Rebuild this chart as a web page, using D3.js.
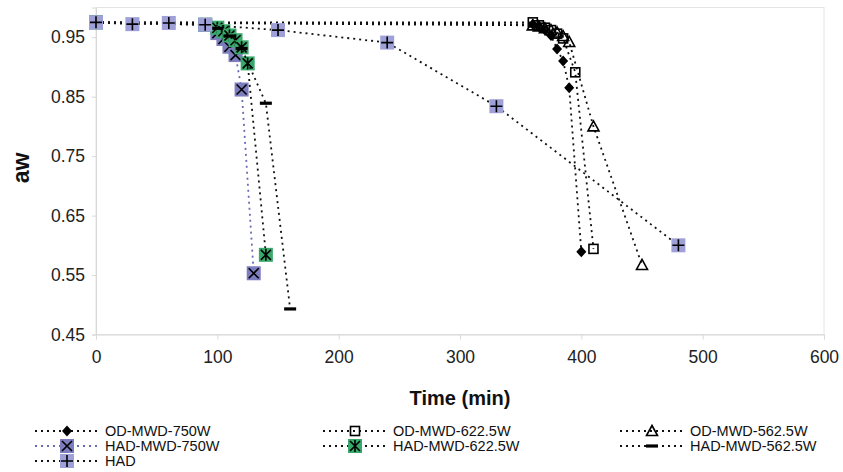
<!DOCTYPE html>
<html><head><meta charset="utf-8">
<script src="https://cdn.jsdelivr.net/npm/d3@7"></script>
<style>
body{margin:0;background:#fff}
svg{display:block;font-family:"Liberation Sans",Arial,Helvetica,sans-serif}
</style>
</head><body>
<svg id="chart" width="843" height="472"></svg>
<script>
// ---- data ----
const seriesNames = ["OD-MWD-750W","OD-MWD-622.5W","OD-MWD-562.5W","HAD-MWD-750W","HAD-MWD-622.5W","HAD-MWD-562.5W","HAD"];

const timeOD750 = [0,360,365,370,375,380,385,390,400];
const awOD750   = [0.975,0.972,0.968,0.962,0.953,0.930,0.910,0.865,0.589];

const timeOD622 = [0,360,365,370,375,380,385,395,410];
const awOD622   = [0.975,0.975,0.970,0.966,0.962,0.956,0.948,0.891,0.594];

const timeOD562 = [0,360,365,370,375,380,385,390,410,450];
const awOD562   = [0.975,0.970,0.968,0.965,0.962,0.958,0.952,0.942,0.800,0.567];

const timeHAD750 = [0,90,100,105,110,115,120,130];
const awHAD750   = [0.975,0.971,0.957,0.947,0.934,0.920,0.862,0.553];

const timeHAD622 = [0,90,100,105,110,115,120,125,140];
const awHAD622   = [0.975,0.971,0.966,0.960,0.953,0.945,0.933,0.906,0.584];

const timeHAD562 = [0,90,100,110,120,140,160];
const awHAD562   = [0.975,0.971,0.965,0.952,0.931,0.839,0.493];

const timeHAD = [0,30,60,90,150,240,330,480];
const awHAD   = [0.975,0.972,0.974,0.971,0.962,0.941,0.834,0.600];

const xTicks = [0,100,200,300,400,500,600];
const yTicks = [0.45,0.55,0.65,0.75,0.85,0.95];

// ---- styles ----
const PURPLE_DARK = "#7c7cbf", PURPLE = "#a0a0d8", GREEN = "#38a96b";
const styles = [
  {marker:"diamond", line:"#111"},
  {marker:"square", line:"#111"},
  {marker:"triangle", line:"#111"},
  {marker:"boxX", line:"#6a6ab8"},
  {marker:"boxStar", line:"#111"},
  {marker:"dash", line:"#111"},
  {marker:"boxPlus", line:"#111"}
];
const times = [timeOD750,timeOD622,timeOD562,timeHAD750,timeHAD622,timeHAD562,timeHAD];
const aws = [awOD750,awOD622,awOD562,awHAD750,awHAD622,awHAD562,awHAD];
const series = seriesNames.map((n,i)=>({name:n, style:styles[i], pts:times[i].map((t,j)=>({t, a:aws[i][j]}))}));

const svg = d3.select("#chart");
const x = d3.scaleLinear().domain([0,600]).range([96,824]);
const y = d3.scaleLinear().domain([0.45,1.0]).range([334.5,7.5]);

// frame
svg.append("rect").attr("x",96).attr("y",7.5).attr("width",728).attr("height",327)
  .attr("fill","none").attr("stroke","#e4e4e4").attr("stroke-width",1);

const gx = svg.append("g").attr("transform","translate(0,334.5)")
  .call(d3.axisBottom(x).tickValues(xTicks).tickFormat(d3.format("d")).tickSize(5).tickPadding(11));
const gy = svg.append("g").attr("transform","translate(96,0)")
  .call(d3.axisLeft(y).tickValues(yTicks).tickFormat(d3.format(".2f")).tickSize(4).tickPadding(7));
[gx,gy].forEach(g=>{
  g.select(".domain").attr("stroke","#d8d8d8");
  g.selectAll(".tick line").attr("stroke","#d8d8d8");
  g.selectAll("text").attr("font-size","17.5px").attr("fill","#222").attr("font-family","Liberation Sans, Arial, sans-serif");
});

// axis titles
svg.append("text").attr("x",460).attr("y",405).attr("text-anchor","middle")
  .attr("font-size","20px").attr("font-weight","bold").attr("fill","#111").text("Time (min)");
svg.append("text").attr("transform","translate(29,168) rotate(-90)").attr("text-anchor","middle")
  .attr("font-size","23px").attr("font-weight","bold").attr("fill","#111").text("aw");

// marker drawing
function drawMarker(g, type){
  switch(type){
    case "diamond":
      g.append("path").attr("d","M0,-5.5L5,0L0,5.5L-5,0Z").attr("fill","#000"); break;
    case "square":
      g.append("rect").attr("x",-4.5).attr("y",-4.5).attr("width",9).attr("height",9)
        .attr("fill","none").attr("stroke","#000").attr("stroke-width",1.6); break;
    case "triangle":
      g.append("path").attr("d","M0,-5.5L5.5,4.5L-5.5,4.5Z")
        .attr("fill","none").attr("stroke","#000").attr("stroke-width",1.6); break;
    case "boxX":
      g.append("rect").attr("x",-7).attr("y",-7).attr("width",14).attr("height",14).attr("fill",PURPLE_DARK);
      g.append("path").attr("d","M-5,-5L5,5M5,-5L-5,5").attr("stroke","#000").attr("stroke-width",1.6); break;
    case "boxStar":
      g.append("rect").attr("x",-7).attr("y",-7).attr("width",14).attr("height",14).attr("fill",GREEN);
      g.append("path").attr("d","M-5,-5L5,5M5,-5L-5,5M0,-6L0,6").attr("stroke","#000").attr("stroke-width",1.6); break;
    case "dash":
      g.append("rect").attr("x",-6).attr("y",-1.6).attr("width",12).attr("height",3.2).attr("fill","#000"); break;
    case "boxPlus":
      g.append("rect").attr("x",-7).attr("y",-7).attr("width",14).attr("height",14).attr("fill",PURPLE);
      g.append("path").attr("d","M-6,0L6,0M0,-6L0,6").attr("stroke","#000").attr("stroke-width",1.6); break;
  }
}

const line = d3.line().x(d=>x(d.t)).y(d=>y(d.a));
series.forEach(s=>{
  const g = svg.append("g");
  g.append("path").datum(s.pts).attr("d",line).attr("fill","none")
    .attr("stroke",s.style.line).attr("stroke-width",1.8).attr("stroke-dasharray","2,4");
  g.selectAll("g.m").data(s.pts).join("g").attr("class","m")
    .attr("transform",d=>`translate(${x(d.t)},${y(d.a)})`)
    .each(function(){ drawMarker(d3.select(this), s.style.marker); });
});

// legend
const legendPos = [[35,431],[323,431],[620,431],[35,446],[323,446],[620,446],[35,461]];
series.forEach((s,i)=>{
  const [lx,ly] = legendPos[i];
  const g = svg.append("g").attr("transform",`translate(${lx},${ly})`);
  g.append("line").attr("x1",0).attr("x2",62).attr("y1",0).attr("y2",0)
    .attr("stroke",s.style.line).attr("stroke-width",1.8).attr("stroke-dasharray","2,4");
  const m = g.append("g").attr("transform","translate(32,0)");
  drawMarker(m, s.style.marker);
  g.append("text").attr("x",70).attr("y",0).attr("dy","0.35em")
    .attr("font-size","14.5px").attr("fill","#111").text(s.name);
});
</script>
</body></html>
